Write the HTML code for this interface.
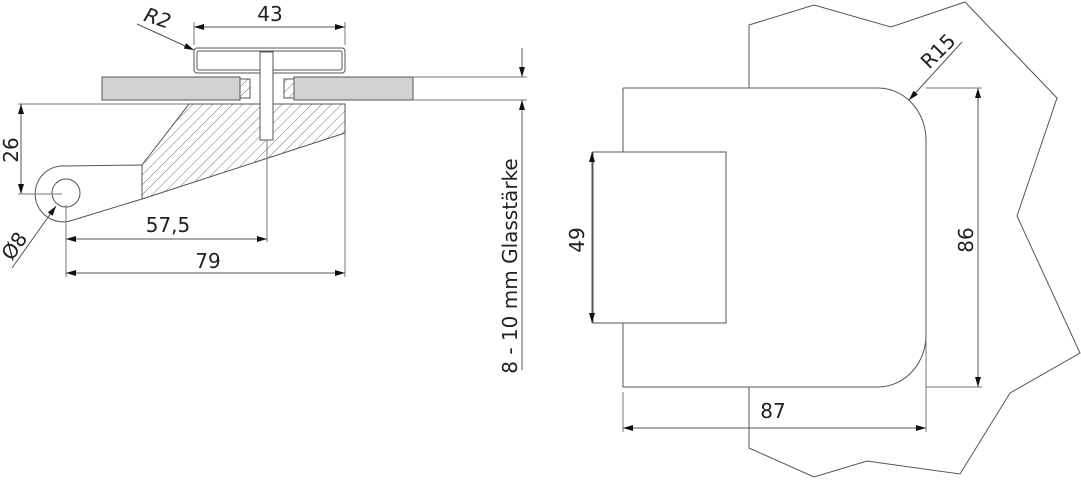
<!DOCTYPE html>
<html><head><meta charset="utf-8"><style>
html,body{margin:0;padding:0;background:#fff;}
svg{display:block;font-family:"DejaVu Sans","Liberation Sans",sans-serif;}
</style></head><body>
<svg width="1081" height="480" viewBox="0 0 1081 480" xmlns="http://www.w3.org/2000/svg">
<defs>
<pattern id="h" patternUnits="userSpaceOnUse" width="7" height="7" patternTransform="rotate(45)">
<line x1="0" y1="0" x2="0" y2="7" stroke="#555" stroke-width="0.8"/>
</pattern>
<marker id="a" viewBox="0 0 10 6" refX="10" refY="3" markerWidth="10" markerHeight="6" orient="auto-start-reverse" markerUnits="userSpaceOnUse">
<path d="M0,0 L10,3 L0,6 z" fill="#111"/>
</marker>
</defs>
<g stroke="#555" stroke-width="1" fill="none">
<rect x="102" y="77" width="138" height="23" fill="#d2d2d2" stroke="#555"/>
<rect x="294" y="77" width="119" height="23" fill="#d2d2d2" stroke="#555"/>
<rect x="240" y="79" width="10" height="19" fill="url(#h)"/>
<rect x="284" y="79" width="10" height="19" fill="url(#h)"/>
<rect x="194" y="48" width="151" height="25" rx="3"/>
<rect x="197" y="51" width="145" height="19" rx="2"/>
<polygon points="189,104 345,104 345,133 142,199 142,165" fill="url(#h)" stroke="#555"/>
<rect x="260" y="52" width="13" height="88" fill="#fff"/>
<path d="M142,165 L66,166 A28,28 0 1 0 70,221 L142,199"/>
<circle cx="66" cy="193" r="14"/>
<line x1="18" y1="104" x2="189" y2="104" stroke="#777"/>
<line x1="413" y1="77" x2="527" y2="77" stroke="#777"/>
<line x1="413" y1="100" x2="527" y2="100" stroke="#777"/>
<line x1="194" y1="45" x2="194" y2="22" stroke="#777"/>
<line x1="345" y1="45" x2="345" y2="22" stroke="#777"/>
<line x1="194" y1="27" x2="345" y2="27" marker-start="url(#a)" marker-end="url(#a)"/>
<line x1="137" y1="24" x2="194" y2="50" marker-end="url(#a)"/>
<line x1="522" y1="48" x2="522" y2="77" marker-end="url(#a)"/>
<line x1="522" y1="370" x2="522" y2="100" marker-end="url(#a)"/>
<line x1="21" y1="104" x2="21" y2="194" marker-start="url(#a)" marker-end="url(#a)"/>
<line x1="18" y1="194" x2="62" y2="194" stroke="#777"/>
<line x1="267" y1="140" x2="267" y2="242" stroke="#777"/>
<line x1="345" y1="133" x2="345" y2="277" stroke="#777"/>
<line x1="66" y1="205" x2="66" y2="277" stroke="#777"/>
<line x1="66" y1="239" x2="267" y2="239" marker-start="url(#a)" marker-end="url(#a)"/>
<line x1="66" y1="273" x2="345" y2="273" marker-start="url(#a)" marker-end="url(#a)"/>
<line x1="12" y1="268" x2="56" y2="206" marker-end="url(#a)"/>
<polyline points="749,88 749,25 814,5 891,27 965,2 1057,98 1017,216 1080,353 1010,393 960,474 867,461 814,477 749,448 749,387"/>
<path d="M623,88 L878,88 A48,52 0 0 1 926,140 L926,335 A48,52 0 0 1 878,387 L623,387 L623,323 M623,152 L623,88"/>
<rect x="593" y="152" width="133" height="171"/>
<line x1="592" y1="152" x2="592" y2="323" marker-start="url(#a)" marker-end="url(#a)"/>
<line x1="926" y1="88" x2="982" y2="88" stroke="#777"/>
<line x1="926" y1="387" x2="982" y2="387" stroke="#777"/>
<line x1="978" y1="88" x2="978" y2="387" marker-start="url(#a)" marker-end="url(#a)"/>
<line x1="623" y1="392" x2="623" y2="432" stroke="#777"/>
<line x1="926" y1="340" x2="926" y2="432" stroke="#777"/>
<line x1="623" y1="428" x2="926" y2="428" marker-start="url(#a)" marker-end="url(#a)"/>
<line x1="962" y1="42" x2="909" y2="100" marker-end="url(#a)"/>
</g>
<g fill="#222" font-size="20">
<text x="270" y="21" text-anchor="middle">43</text>
<text x="157" y="25" text-anchor="middle" font-style="italic" transform="rotate(18 157 20)">R2</text>
<text transform="translate(18,150) rotate(-90)" text-anchor="middle">26</text>
<text x="168" y="232" text-anchor="middle">57,5</text>
<text x="208" y="268" text-anchor="middle">79</text>
<text transform="translate(20,250) rotate(-55)" text-anchor="middle">Ø8</text>
<text transform="translate(517,266) rotate(-90)" text-anchor="middle">8 - 10 mm Glasstärke</text>
<text transform="translate(584,240) rotate(-90)" text-anchor="middle">49</text>
<text transform="translate(973,240) rotate(-90)" text-anchor="middle">86</text>
<text x="773" y="418" text-anchor="middle">87</text>
<text transform="translate(943,56) rotate(-45)" text-anchor="middle">R15</text>
</g>
</svg>
</body></html>
